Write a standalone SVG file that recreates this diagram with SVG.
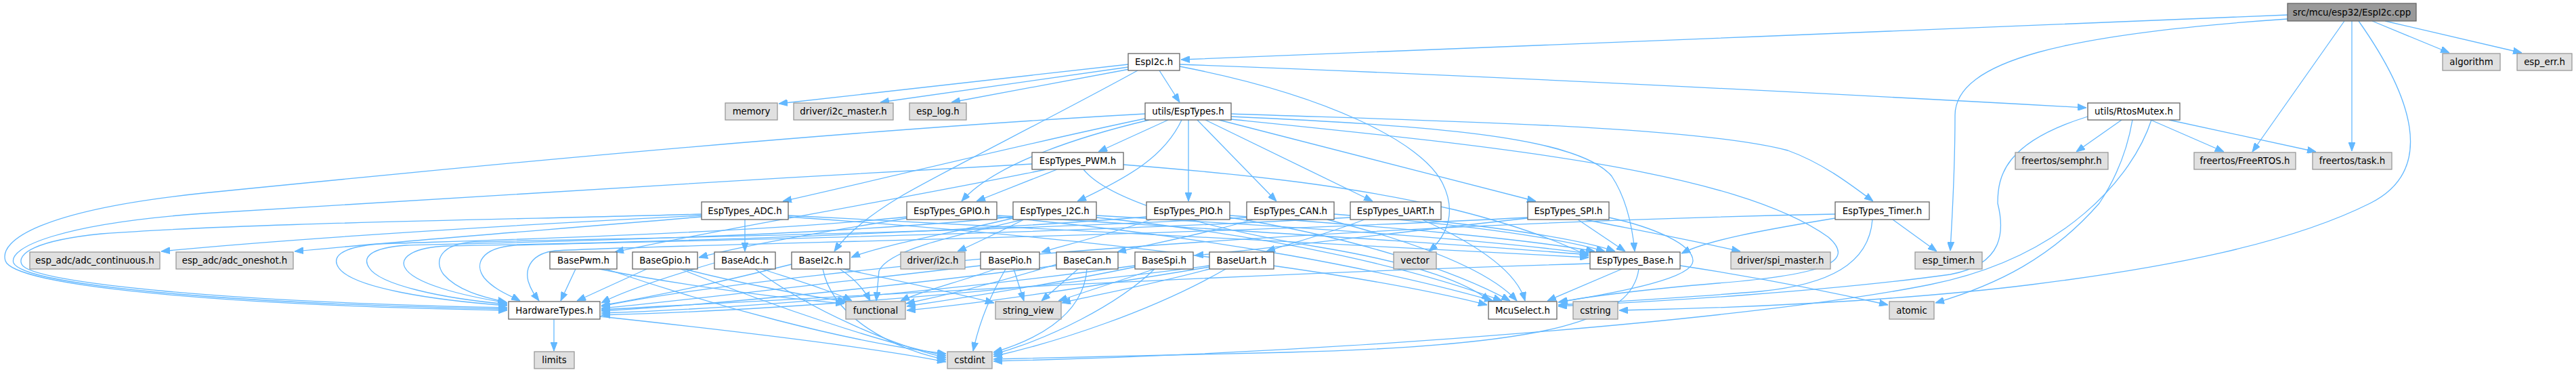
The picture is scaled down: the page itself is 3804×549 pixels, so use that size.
<svg xmlns="http://www.w3.org/2000/svg" width="3804" height="549" viewBox="0 0 3804 549">
<style>
.e path{fill:none;stroke:#63b8ff;stroke-width:1.3}
.n rect{stroke-width:1.3}
.w rect{fill:#ffffff;stroke:#666666}
.g rect{fill:#e0e0e0;stroke:#999999}
.r rect{fill:#999999;stroke:#666666}
.n text{font-family:"DejaVu Sans","Liberation Sans",sans-serif;font-size:13.33px;text-anchor:middle;fill:#000}
</style>
<defs>
<marker id="a" markerUnits="userSpaceOnUse" viewBox="0 0 13 10" markerWidth="13" markerHeight="10" refX="13" refY="5" orient="auto">
<path d="M0,0 L13,5 L0,10 z" fill="#63b8ff" stroke="#63b8ff"/>
</marker>
</defs>
<rect width="3804" height="549" fill="#ffffff"/>
<g id="edges" class="e" marker-end="url(#a)">
<path marker-end="url(#a)" d="M3378,22 C2900,40 2200,72 1744,88"/>
<path marker-end="url(#a)" d="M3378,28 C3050,50 2887,90 2887,170 C2887,260 2882,330 2880,370"/>
<path marker-end="url(#a)" d="M3462,31 L3326,224"/>
<path marker-end="url(#a)" d="M3473,31 L3473,223"/>
<path marker-end="url(#a)" d="M3483,31 C3560,140 3600,250 3500,300 C3380,360 3200,395 3000,420 C2800,445 2550,455 2391,458"/>
<path marker-end="url(#a)" d="M3503,31 L3617,78"/>
<path marker-end="url(#a)" d="M3522,31 L3724,78"/>
<path marker-end="url(#a)" d="M1666,95 C1450,118 1260,140 1150,153"/>
<path marker-end="url(#a)" d="M1666,99 L1300,151"/>
<path marker-end="url(#a)" d="M1668,102 L1405,151"/>
<path marker-end="url(#a)" d="M1712,104 L1742,151"/>
<path marker-end="url(#a)" d="M1742,95 C2200,112 2700,138 3081,159"/>
<path marker-end="url(#a)" d="M1680,104 C1560,170 1380,260 1330,290 C1280,320 1250,345 1232,371"/>
<path marker-end="url(#a)" d="M1742,98 C1960,140 2100,210 2130,270 C2150,310 2140,345 2110,371"/>
<path marker-end="url(#a)" d="M1725,177 L1622,224"/>
<path marker-end="url(#a)" d="M1697,177 C1600,200 1470,240 1420,297"/>
<path marker-end="url(#a)" d="M1745,177 C1720,230 1670,260 1591,297"/>
<path marker-end="url(#a)" d="M1755,177 L1755,297"/>
<path marker-end="url(#a)" d="M1768,177 L1885,297"/>
<path marker-end="url(#a)" d="M1780,177 L2027,297"/>
<path marker-end="url(#a)" d="M1800,177 L2268,297"/>
<path marker-end="url(#a)" d="M1818,168 C2100,178 2500,185 2640,222 C2690,240 2730,270 2766,297"/>
<path marker-end="url(#a)" d="M1818,172 C2100,185 2330,200 2380,260 C2400,290 2410,330 2414,371"/>
<path marker-end="url(#a)" d="M1818,176 C2200,215 2560,250 2700,350 C2740,385 2700,405 2536,418 C2420,428 2350,437 2301,446"/>
<path marker-end="url(#a)" d="M1691,168 C1200,195 600,255 300,285 C60,310 -2,355 8,385 C20,420 300,450 749,458"/>
<path marker-end="url(#a)" d="M1691,175 C1500,215 1300,265 1156,297"/>
<path marker-end="url(#a)" d="M1545,250 C1300,300 1050,340 908,372"/>
<path marker-end="url(#a)" d="M1561,250 L1442,297"/>
<path marker-end="url(#a)" d="M1524,242 C1100,265 600,295 300,315 C90,330 12,365 20,388 C35,420 320,448 749,456"/>
<path marker-end="url(#a)" d="M1600,250 C1640,300 1800,340 1950,365 C2100,390 2170,420 2200,444"/>
<path marker-end="url(#a)" d="M1659,243 C1850,258 2000,275 2150,310 C2250,335 2310,360 2346,378"/>
<path marker-end="url(#a)" d="M1036,318 C700,335 400,355 238,371"/>
<path marker-end="url(#a)" d="M1036,320 C800,340 600,355 435,371"/>
<path marker-end="url(#a)" d="M1100,324 L1100,371"/>
<path marker-end="url(#a)" d="M1036,316 C700,325 350,330 150,345 C50,355 25,375 32,390 C45,418 340,446 749,454"/>
<path marker-end="url(#a)" d="M1339,320 C1100,345 700,355 560,360 C500,365 490,380 500,395 C520,425 640,443 749,451"/>
<path marker-end="url(#a)" d="M1496,320 C1200,350 750,358 600,362 C545,366 535,380 545,395 C560,420 650,440 749,449"/>
<path marker-end="url(#a)" d="M1693,320 C1300,352 800,360 660,363 C610,365 590,380 598,395 C610,418 680,436 749,447"/>
<path marker-end="url(#a)" d="M1841,321 C1400,345 900,352 700,357 C650,360 640,385 655,405 C675,428 710,438 748,446"/>
<path marker-end="url(#a)" d="M1994,321 C1500,348 950,356 760,362 C710,366 700,390 715,410 C730,428 755,437 768,444"/>
<path marker-end="url(#a)" d="M2256,321 C1700,350 1000,360 820,370 C785,374 775,395 780,415 C784,428 790,436 796,444"/>
<path marker-end="url(#a)" d="M2710,316 C2000,330 1200,390 888,452"/>
<path marker-end="url(#a)" d="M2348,389 C1800,405 1200,440 888,457"/>
<path marker-end="url(#a)" d="M850,397 L828,444"/>
<path marker-end="url(#a)" d="M955,397 L852,444"/>
<path marker-end="url(#a)" d="M1055,388 C980,410 920,430 888,447"/>
<path marker-end="url(#a)" d="M1169,390 C1050,420 950,440 888,451"/>
<path marker-end="url(#a)" d="M1448,392 C1200,420 1000,445 888,455"/>
<path marker-end="url(#a)" d="M1560,392 C1300,425 1050,450 888,459"/>
<path marker-end="url(#a)" d="M1676,392 C1400,430 1100,455 888,462"/>
<path marker-end="url(#a)" d="M1786,392 C1500,430 1150,458 888,465"/>
<path marker-end="url(#a)" d="M885,397 C1000,420 1150,440 1247,448"/>
<path marker-end="url(#a)" d="M1010,397 C1100,420 1200,438 1250,445"/>
<path marker-end="url(#a)" d="M1125,397 C1180,415 1230,430 1258,444"/>
<path marker-end="url(#a)" d="M1240,397 C1260,410 1275,425 1285,444"/>
<path marker-end="url(#a)" d="M1511,324 C1400,350 1310,370 1298,400 L1294,444"/>
<path marker-end="url(#a)" d="M1470,397 C1420,415 1360,430 1330,444"/>
<path marker-end="url(#a)" d="M1560,390 C1480,415 1400,435 1338,448"/>
<path marker-end="url(#a)" d="M1676,394 C1550,420 1420,440 1339,452"/>
<path marker-end="url(#a)" d="M1786,394 C1600,425 1450,448 1339,458"/>
<path marker-end="url(#a)" d="M895,397 C1050,450 1250,505 1397,522"/>
<path marker-end="url(#a)" d="M1005,397 C1150,455 1300,505 1397,525"/>
<path marker-end="url(#a)" d="M1115,397 C1200,460 1320,510 1397,528"/>
<path marker-end="url(#a)" d="M1215,397 C1230,470 1320,515 1397,531"/>
<path marker-end="url(#a)" d="M1485,397 C1460,440 1445,480 1437,518"/>
<path marker-end="url(#a)" d="M1605,397 C1600,470 1520,505 1467,520"/>
<path marker-end="url(#a)" d="M1705,397 C1650,450 1550,500 1467,523"/>
<path marker-end="url(#a)" d="M1810,397 C1700,460 1560,505 1467,526"/>
<path marker-end="url(#a)" d="M886,467 C1100,490 1300,515 1397,534"/>
<path marker-end="url(#a)" d="M2420,397 C2410,470 2300,510 1900,520 C1700,525 1550,528 1467,530"/>
<path marker-end="url(#a)" d="M3177,177 C3150,260 3050,380 2850,420 C2600,470 2000,520 1467,533"/>
<path marker-end="url(#a)" d="M1497,397 L1512,444"/>
<path marker-end="url(#a)" d="M1592,397 L1538,444"/>
<path marker-end="url(#a)" d="M1705,397 L1563,444"/>
<path marker-end="url(#a)" d="M1786,397 C1700,420 1620,435 1568,447"/>
<path marker-end="url(#a)" d="M1245,397 C1330,415 1420,435 1468,447"/>
<path marker-end="url(#a)" d="M1164,320 C1600,350 2000,400 2196,450"/>
<path marker-end="url(#a)" d="M1472,320 C1800,350 2050,400 2205,444"/>
<path marker-end="url(#a)" d="M1619,321 C1900,350 2100,400 2218,444"/>
<path marker-end="url(#a)" d="M1816,321 C2000,350 2150,400 2230,444"/>
<path marker-end="url(#a)" d="M1960,324 C2100,360 2200,400 2240,444"/>
<path marker-end="url(#a)" d="M2100,324 C2180,360 2240,400 2252,444"/>
<path marker-end="url(#a)" d="M2376,321 C2440,335 2500,360 2500,385 C2500,410 2400,430 2302,446"/>
<path marker-end="url(#a)" d="M2765,324 C2760,390 2700,420 2600,430 C2480,440 2380,445 2301,450"/>
<path marker-end="url(#a)" d="M2395,397 L2285,444"/>
<path marker-end="url(#a)" d="M3083,172 C2960,210 2950,260 2950,300 C2960,340 2960,390 2880,405 C2700,430 2450,445 2301,452"/>
<path marker-end="url(#a)" d="M1164,318 C1700,345 2100,365 2346,380"/>
<path marker-end="url(#a)" d="M1472,318 C1900,345 2150,360 2346,376"/>
<path marker-end="url(#a)" d="M1619,318 C2000,340 2200,355 2346,374"/>
<path marker-end="url(#a)" d="M1816,318 C2050,335 2250,352 2355,371"/>
<path marker-end="url(#a)" d="M1970,316 C2150,330 2300,350 2370,371"/>
<path marker-end="url(#a)" d="M2100,324 C2250,340 2340,355 2385,371"/>
<path marker-end="url(#a)" d="M2330,324 L2400,371"/>
<path marker-end="url(#a)" d="M2710,322 C2600,340 2520,355 2483,374"/>
<path marker-end="url(#a)" d="M2481,392 C2600,410 2700,430 2788,450"/>
<path marker-end="url(#a)" d="M3149,177 C3140,230 3120,270 3100,300 C3030,380 2950,420 2858,447"/>
<path marker-end="url(#a)" d="M3133,177 L3066,224"/>
<path marker-end="url(#a)" d="M3176,177 L3284,224"/>
<path marker-end="url(#a)" d="M3203,177 L3420,224"/>
<path marker-end="url(#a)" d="M818,471 L818,518"/>
<path marker-end="url(#a)" d="M2256,322 C2000,350 1850,370 1764,377"/>
<path marker-end="url(#a)" d="M2340,324 C2420,340 2500,355 2570,371"/>
<path marker-end="url(#a)" d="M2015,324 C1960,345 1910,358 1870,371"/>
<path marker-end="url(#a)" d="M1850,324 C1780,345 1700,360 1650,372"/>
<path marker-end="url(#a)" d="M1700,324 C1640,345 1580,360 1538,372"/>
<path marker-end="url(#a)" d="M1512,324 C1480,340 1450,355 1414,371"/>
<path marker-end="url(#a)" d="M1496,322 C1400,345 1300,362 1257,380"/>
<path marker-end="url(#a)" d="M1339,322 C1200,345 1100,362 1032,380"/>
<path marker-end="url(#a)" d="M2795,324 L2860,371"/>
</g>
<g id="n_cpp" class="n r"><rect x="3378" y="5" width="190" height="26"/><text x="3473" y="22.5">src/mcu/esp32/EspI2c.cpp</text></g>
<g id="n_espi2c" class="n w"><rect x="1666" y="79" width="76" height="25"/><text x="1704" y="96">EspI2c.h</text></g>
<g id="n_algorithm" class="n g"><rect x="3607" y="79" width="85" height="25"/><text x="3649.5" y="96">algorithm</text></g>
<g id="n_esperr" class="n g"><rect x="3717" y="79" width="81" height="25"/><text x="3757.5" y="96">esp_err.h</text></g>
<g id="n_memory" class="n g"><rect x="1071" y="152" width="77" height="25"/><text x="1109.5" y="169">memory</text></g>
<g id="n_i2cmaster" class="n g"><rect x="1172" y="152" width="147" height="25"/><text x="1245.5" y="169">driver/i2c_master.h</text></g>
<g id="n_esplog" class="n g"><rect x="1343" y="152" width="84" height="25"/><text x="1385" y="169">esp_log.h</text></g>
<g id="n_esptypes" class="n w"><rect x="1691" y="152" width="127" height="25"/><text x="1754.5" y="169">utils/EspTypes.h</text></g>
<g id="n_rtosmutex" class="n w"><rect x="3083" y="152" width="136" height="25"/><text x="3151" y="169">utils/RtosMutex.h</text></g>
<g id="n_pwm" class="n w"><rect x="1524" y="225" width="135" height="25"/><text x="1591.5" y="242">EspTypes_PWM.h</text></g>
<g id="n_semphr" class="n g"><rect x="2976" y="225" width="137" height="25"/><text x="3044.5" y="242">freertos/semphr.h</text></g>
<g id="n_freertos" class="n g"><rect x="3240" y="225" width="150" height="25"/><text x="3315" y="242">freertos/FreeRTOS.h</text></g>
<g id="n_task" class="n g"><rect x="3415" y="225" width="117" height="25"/><text x="3473.5" y="242">freertos/task.h</text></g>
<g id="n_adc" class="n w"><rect x="1036" y="298" width="128" height="26"/><text x="1100" y="315.5">EspTypes_ADC.h</text></g>
<g id="n_gpio" class="n w"><rect x="1339" y="298" width="133" height="26"/><text x="1405.5" y="315.5">EspTypes_GPIO.h</text></g>
<g id="n_i2c" class="n w"><rect x="1496" y="298" width="123" height="26"/><text x="1557.5" y="315.5">EspTypes_I2C.h</text></g>
<g id="n_pio" class="n w"><rect x="1693" y="298" width="123" height="26"/><text x="1754.5" y="315.5">EspTypes_PIO.h</text></g>
<g id="n_can" class="n w"><rect x="1841" y="298" width="129" height="26"/><text x="1905.5" y="315.5">EspTypes_CAN.h</text></g>
<g id="n_uart" class="n w"><rect x="1994" y="298" width="134" height="26"/><text x="2061" y="315.5">EspTypes_UART.h</text></g>
<g id="n_spi" class="n w"><rect x="2256" y="298" width="120" height="26"/><text x="2316" y="315.5">EspTypes_SPI.h</text></g>
<g id="n_timer" class="n w"><rect x="2710" y="298" width="139" height="26"/><text x="2779.5" y="315.5">EspTypes_Timer.h</text></g>
<g id="n_adccont" class="n g"><rect x="44" y="372" width="192" height="25"/><text x="140" y="389">esp_adc/adc_continuous.h</text></g>
<g id="n_adcone" class="n g"><rect x="260" y="372" width="173" height="25"/><text x="346.5" y="389">esp_adc/adc_oneshot.h</text></g>
<g id="n_basepwm" class="n w"><rect x="812" y="372" width="99" height="25"/><text x="861.5" y="389">BasePwm.h</text></g>
<g id="n_basegpio" class="n w"><rect x="934" y="372" width="96" height="25"/><text x="982" y="389">BaseGpio.h</text></g>
<g id="n_baseadc" class="n w"><rect x="1055" y="372" width="90" height="25"/><text x="1100" y="389">BaseAdc.h</text></g>
<g id="n_basei2c" class="n w"><rect x="1169" y="372" width="86" height="25"/><text x="1212" y="389">BaseI2c.h</text></g>
<g id="n_drvi2c" class="n g"><rect x="1330" y="372" width="95" height="25"/><text x="1377.5" y="389">driver/i2c.h</text></g>
<g id="n_basepio" class="n w"><rect x="1448" y="372" width="87" height="25"/><text x="1491.5" y="389">BasePio.h</text></g>
<g id="n_basecan" class="n w"><rect x="1560" y="372" width="91" height="25"/><text x="1605.5" y="389">BaseCan.h</text></g>
<g id="n_basespi" class="n w"><rect x="1676" y="372" width="86" height="25"/><text x="1719" y="389">BaseSpi.h</text></g>
<g id="n_baseuart" class="n w"><rect x="1786" y="372" width="95" height="25"/><text x="1833.5" y="389">BaseUart.h</text></g>
<g id="n_vector" class="n g"><rect x="2058" y="372" width="63" height="25"/><text x="2089.5" y="389">vector</text></g>
<g id="n_espbase" class="n w"><rect x="2348" y="372" width="133" height="25"/><text x="2414.5" y="389">EspTypes_Base.h</text></g>
<g id="n_spimaster" class="n g"><rect x="2556" y="372" width="147" height="25"/><text x="2629.5" y="389">driver/spi_master.h</text></g>
<g id="n_esptimer" class="n g"><rect x="2828" y="372" width="99" height="25"/><text x="2877.5" y="389">esp_timer.h</text></g>
<g id="n_hw" class="n w"><rect x="751" y="445" width="135" height="26"/><text x="818.5" y="462.5">HardwareTypes.h</text></g>
<g id="n_functional" class="n g"><rect x="1249" y="445" width="88" height="26"/><text x="1293" y="462.5">functional</text></g>
<g id="n_stringview" class="n g"><rect x="1470" y="445" width="97" height="26"/><text x="1518.5" y="462.5">string_view</text></g>
<g id="n_mcuselect" class="n w"><rect x="2198" y="445" width="101" height="26"/><text x="2248.5" y="462.5">McuSelect.h</text></g>
<g id="n_cstring" class="n g"><rect x="2323" y="445" width="66" height="26"/><text x="2356" y="462.5">cstring</text></g>
<g id="n_atomic" class="n g"><rect x="2790" y="445" width="66" height="26"/><text x="2823" y="462.5">atomic</text></g>
<g id="n_limits" class="n g"><rect x="789" y="519" width="59" height="25"/><text x="818.5" y="536">limits</text></g>
<g id="n_cstdint" class="n g"><rect x="1399" y="519" width="66" height="25"/><text x="1432" y="536">cstdint</text></g>
</svg>
